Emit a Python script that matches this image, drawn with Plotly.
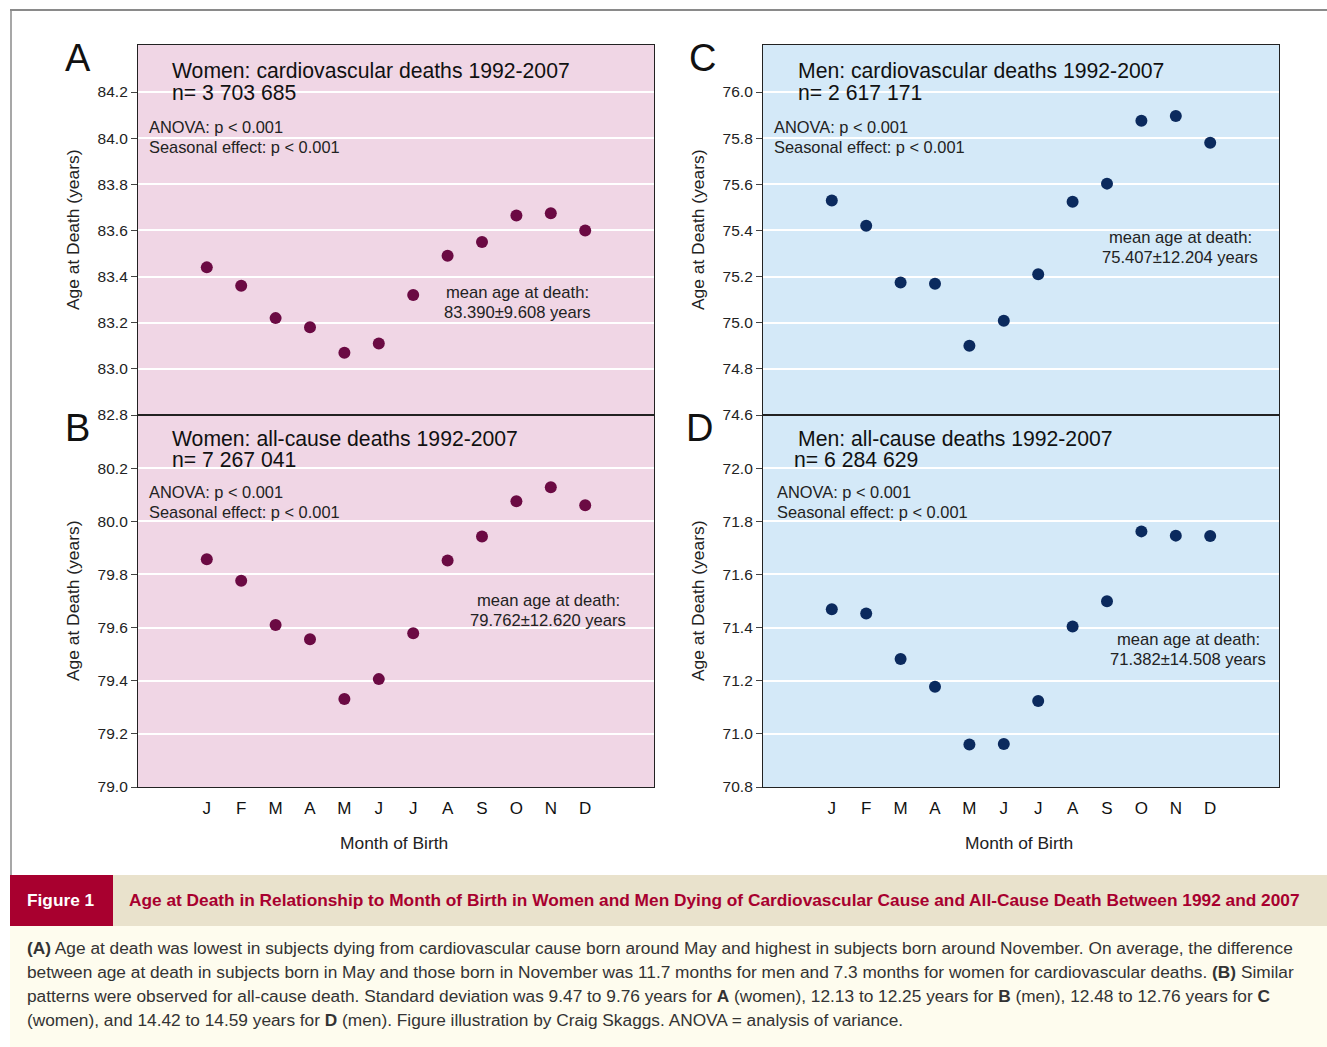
import plotly.graph_objects as go

W, H = 1327, 1047

months = ["J", "F", "M", "A", "M", "J", "J", "A", "S", "O", "N", "D"]
month_pos = list(range(1, 13))

women_cv = [83.44, 83.36, 83.22, 83.18, 83.07, 83.11, 83.32, 83.49, 83.55, 83.665, 83.675, 83.60]
women_all = [79.857, 79.776, 79.61, 79.556, 79.331, 79.406, 79.579, 79.852, 79.943, 80.075, 80.128, 80.06]
men_cv = [75.53, 75.42, 75.174, 75.169, 74.90, 75.009, 75.21, 75.524, 75.603, 75.876, 75.896, 75.78]
men_all = [71.469, 71.453, 71.282, 71.177, 70.96, 70.962, 71.124, 71.404, 71.499, 71.762, 71.746, 71.745]

ticks_A = [82.8, 83.0, 83.2, 83.4, 83.6, 83.8, 84.0, 84.2]
ticks_B = [79.0, 79.2, 79.4, 79.6, 79.8, 80.0, 80.2]
ticks_C = [74.6, 74.8, 75.0, 75.2, 75.4, 75.6, 75.8, 76.0]
ticks_D = [70.8, 71.0, 71.2, 71.4, 71.6, 71.8, 72.0]

FONT = "Liberation Sans, Arial, sans-serif"
PINK = "#F0D6E5"
BLUE = "#D4E9F8"
MAROON = "#6B0A43"
NAVY = "#0B2A5E"
RED = "#A8002F"


def px(x):
    return x / W


def py(y):
    return 1 - y / H


panels = [
    ("A", (138, 654), (45, 415), [82.8, 84.404], ticks_A, women_cv, MAROON, PINK, False),
    ("B", (138, 654), (415, 787), [79.0, 80.4], ticks_B, women_all, MAROON, PINK, True),
    ("C", (763, 1279), (45, 415), [74.6, 76.204], ticks_C, men_cv, NAVY, BLUE, False),
    ("D", (763, 1279), (415, 787), [70.8, 72.2], ticks_D, men_all, NAVY, BLUE, True),
]

fig = go.Figure()
shapes = []
annotations = []

for i, (key, (x0, x1), (y0, y1), yr, tv, data, col, bg, bottom) in enumerate(panels):
    n = i + 1
    xa = "x" if n == 1 else f"x{n}"
    ya = "y" if n == 1 else f"y{n}"
    xl = "xaxis" if n == 1 else f"xaxis{n}"
    yl = "yaxis" if n == 1 else f"yaxis{n}"
    fig.add_trace(go.Scatter(
        x=month_pos, y=data, mode="markers", xaxis=xa, yaxis=ya,
        marker=dict(size=12, color=col, line=dict(width=0)),
        showlegend=False, hoverinfo="skip"))
    fig.layout[xl] = dict(
        domain=[px(x0), px(x1)], range=[-1, 14], anchor=ya,
        tickmode="array", tickvals=month_pos, ticktext=months,
        showticklabels=bottom, ticks="outside" if bottom else "",
        ticklen=5, tickcolor="rgba(0,0,0,0)",
        tickfont=dict(family=FONT, size=17, color="#111"),
        showgrid=False, zeroline=False, automargin=False,
        showline=True, mirror=True, linecolor="#222", linewidth=1.3)
    fig.layout[yl] = dict(
        domain=[py(y1), py(y0)], range=yr, anchor=xa,
        tickmode="array", tickvals=tv, ticktext=[f"{v:.1f}" for v in tv],
        ticks="outside", ticklen=6, tickcolor="#444", tickwidth=1,
        tickfont=dict(family=FONT, size=15.5, color="#222"),
        showgrid=True, gridcolor="white", gridwidth=2, zeroline=False, automargin=False,
        showline=True, mirror=True, linecolor="#222", linewidth=1.3)
    shapes.append(dict(type="rect", xref=f"{xa} domain", yref=f"{ya} domain",
                       x0=0, x1=1, y0=0, y1=1, fillcolor=bg, line=dict(width=0),
                       layer="below"))
    annotations.append(dict(x=px(x0 - 65), y=py((y0 + y1) / 2), xref="paper", yref="paper",
                            text="Age at Death (years)", textangle=-90, showarrow=False,
                            font=dict(family=FONT, size=17.4, color="#222"),
                            xanchor="center", yanchor="middle"))
    if bottom:
        annotations.append(dict(x=px((x0 + x1) / 2 - 2), y=py(843), xref="paper", yref="paper",
                                text="Month of Birth", showarrow=False,
                                font=dict(family=FONT, size=17.4, color="#222"),
                                xanchor="center", yanchor="middle"))

for letter, lx, ly in [("A", 78, 58), ("B", 77, 428), ("C", 702, 58), ("D", 699, 428)]:
    annotations.append(dict(x=px(lx), y=py(ly), xref="paper", yref="paper", text=letter,
                            showarrow=False, font=dict(family=FONT, size=38, color="#111"),
                            xanchor="center", yanchor="middle"))

titles = [
    ("Women: cardiovascular deaths 1992-2007", 170, 70, "n= 3 703 685", 170, 92),
    ("Women: all-cause deaths 1992-2007", 170, 438, "n= 7 267 041", 170, 459),
    ("Men: cardiovascular deaths 1992-2007", 796, 70, "n= 2 617 171", 796, 92),
    ("Men: all-cause deaths 1992-2007", 796, 438, "n= 6 284 629", 792, 459),
]
for t1, x1_, y1_, t2, x2_, y2_ in titles:
    for t, xx, yy in [(t1, x1_, y1_), (t2, x2_, y2_)]:
        annotations.append(dict(x=px(xx), y=py(yy), xref="paper", yref="paper", text=t,
                                showarrow=False, font=dict(family=FONT, size=21.2, color="#111"),
                                xanchor="left", yanchor="middle"))

for xx, yy in [(147, 127), (147, 492), (772, 127), (775, 492)]:
    for t, dy in [("ANOVA: p < 0.001", 0), ("Seasonal effect: p < 0.001", 20)]:
        annotations.append(dict(x=px(xx), y=py(yy + dy), xref="paper", yref="paper", text=t,
                                showarrow=False, font=dict(family=FONT, size=16.4, color="#222"),
                                xanchor="left", yanchor="middle"))

means = [("83.390±9.608 years", 517, 292), ("79.762±12.620 years", 548, 600),
         ("75.407±12.204 years", 1180, 237), ("71.382±14.508 years", 1188, 639)]
for t, xx, yy in means:
    for tt, dy in [("mean age at death:", 0), (t, 20)]:
        annotations.append(dict(x=px(xx), y=py(yy + dy), xref="paper", yref="paper", text=tt,
                                showarrow=False, font=dict(family=FONT, size=16.6, color="#222"),
                                xanchor="center", yanchor="middle"))

shapes.append(dict(type="line", xref="paper", yref="paper", x0=px(10), x1=1, y0=py(10), y1=py(10),
                   line=dict(color="#8a8a8a", width=2)))
shapes.append(dict(type="line", xref="paper", yref="paper", x0=px(11), x1=px(11), y0=py(10), y1=py(876),
                   line=dict(color="#8a8a8a", width=1.5)))

shapes.append(dict(type="rect", xref="paper", yref="paper", x0=px(10), x1=1, y0=py(1047), y1=py(926),
                   fillcolor="#FEFCEE", line=dict(width=0)))
shapes.append(dict(type="rect", xref="paper", yref="paper", x0=px(113), x1=1, y0=py(926), y1=py(875),
                   fillcolor="#E9E2CC", line=dict(width=0)))
shapes.append(dict(type="rect", xref="paper", yref="paper", x0=px(10), x1=px(113), y0=py(926), y1=py(875),
                   fillcolor=RED, line=dict(width=0)))

annotations.append(dict(x=px(61), y=py(900), xref="paper", yref="paper", text="<b>Figure 1</b>",
                        showarrow=False, font=dict(family=FONT, size=17.3, color="white"),
                        xanchor="center", yanchor="middle"))
annotations.append(dict(x=px(127), y=py(900), xref="paper", yref="paper",
                        text="<b>Age at Death in Relationship to Month of Birth in Women and Men Dying of "
                             "Cardiovascular Cause and All-Cause Death Between 1992 and 2007</b>",
                        showarrow=False, font=dict(family=FONT, size=17.3, color=RED),
                        xanchor="left", yanchor="middle"))

body = [
    "<b>(A)</b> Age at death was lowest in subjects dying from cardiovascular cause born around May and highest in subjects born around November. On average, the difference",
    "between age at death in subjects born in May and those born in November was 11.7 months for men and 7.3 months for women for cardiovascular deaths. <b>(B)</b> Similar",
    "patterns were observed for all-cause death. Standard deviation was 9.47 to 9.76 years for <b>A</b> (women), 12.13 to 12.25 years for <b>B</b> (men), 12.48 to 12.76 years for <b>C</b>",
    "(women), and 14.42 to 14.59 years for <b>D</b> (men). Figure illustration by Craig Skaggs. ANOVA = analysis of variance.",
]
for k, line in enumerate(body):
    annotations.append(dict(x=px(25), y=py(948 + 24 * k), xref="paper", yref="paper", text=line,
                            showarrow=False, font=dict(family=FONT, size=17.3, color="#333"),
                            xanchor="left", yanchor="middle"))

fig.update_layout(
    width=W, height=H, autosize=False,
    margin=dict(l=0, r=0, t=0, b=0, pad=0, autoexpand=False),
    paper_bgcolor="white", plot_bgcolor="rgba(0,0,0,0)",
    shapes=shapes, annotations=annotations,
    font=dict(family=FONT), showlegend=False,
)

post = (
    "var de=document.documentElement, b=document.body;"
    "de.style.margin='0';de.style.padding='0';de.style.overflow='hidden';"
    "b.style.margin='0';b.style.padding='0';b.style.overflow='hidden';"
)
fig.write_html("out.html", config={"displayModeBar": False}, post_script=post)
